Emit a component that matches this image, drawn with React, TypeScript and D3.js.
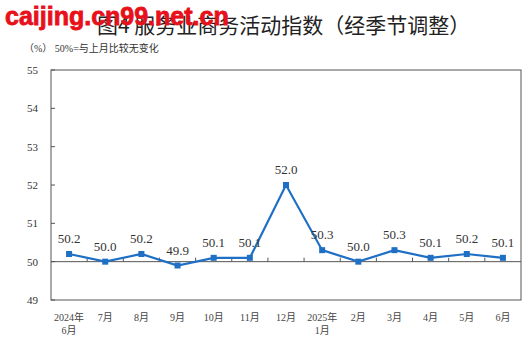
import React from 'react';
import * as d3 from 'd3';

const months = ['2024年\n6月', '7月', '8月', '9月', '10月', '11月', '12月', '2025年\n1月', '2月', '3月', '4月', '5月', '6月'];
const values = [50.2, 50.0, 50.2, 49.9, 50.1, 50.1, 52.0, 50.3, 50.0, 50.3, 50.1, 50.2, 50.1];
const yTicks = [49, 50, 51, 52, 53, 54, 55];

const W = 532;
const H = 353;
const left = 51;
const right = 521;
const top = 70;
const bottom = 300;

const serif = '"Liberation Serif", "Noto Sans CJK SC", serif';
const cjk = '"Noto Sans CJK SC", sans-serif';

const App: React.FC = () => {
  const x = d3.scaleBand<string>().domain(months).range([left, right]);
  const y = d3.scaleLinear().domain([49, 55]).range([bottom, top]);
  const line = d3.line<number>()
    .x((_, i) => (x(months[i]) as number) + x.bandwidth() / 2)
    .y(d => y(d));

  const boundaries = months.slice(1).map(m => x(m) as number);

  return (
    <svg width={W} height={H} style={{ position: 'absolute', left: 0, top: 0, background: '#fff' }}>
      {/* title */}
      <text x={97} y={33} fontFamily={cjk} fontSize={21} fill="#222">图4 服务业商务活动指数（经季节调整）</text>
      {/* watermark */}
      <text x={5} y={25} fontFamily='"Liberation Sans", Arial, sans-serif' fontWeight="bold" fontSize={25}
        fill="#e8101a" stroke="#e8101a" strokeWidth={0.8}>caijing.cn99.net.cn</text>
      <text x={24} y={52} fontFamily={serif} fontSize={10} fill="#333">（%） 50%=与上月比较无变化</text>

      {/* frame */}
      <rect x={left} y={top} width={right - left} height={bottom - top} fill="none" stroke="#555" strokeWidth={1} />
      {/* y axis ticks and labels */}
      {yTicks.map(t => (
        <g key={t}>
          <line x1={left} x2={left + 4} y1={y(t)} y2={y(t)} stroke="#555" />
          <text x={38} y={y(t) + 4} textAnchor="end" fontFamily={serif} fontSize={11} fill="#333">{t}</text>
        </g>
      ))}
      {/* baseline at 50 */}
      <line x1={left} x2={right} y1={y(50)} y2={y(50)} stroke="#555" />
      {boundaries.map((b, i) => (
        <line key={i} x1={b} x2={b} y1={y(50)} y2={y(50) - 4} stroke="#555" />
      ))}

      {/* category labels */}
      {months.map(m => {
        const cx = (x(m) as number) + x.bandwidth() / 2;
        const parts = m.split('\n');
        return (
          <text key={m} x={cx} y={321} textAnchor="middle" fontFamily={serif} fontSize={10} fill="#444">
            {parts.map((p, i) => (
              <tspan key={i} x={cx} dy={i === 0 ? 0 : 13}>{p}</tspan>
            ))}
          </text>
        );
      })}

      {/* series */}
      <path d={line(values) || ''} fill="none" stroke="#1f6fc5" strokeWidth={2.2} />
      {values.map((v, i) => {
        const cx = (x(months[i]) as number) + x.bandwidth() / 2;
        return (
          <g key={i}>
            <rect x={cx - 3} y={y(v) - 3} width={6} height={6} fill="#1f6fc5" />
            <text x={cx} y={y(v) - 11} textAnchor="middle" fontFamily={serif} fontSize={13} fill="#333">{v.toFixed(1)}</text>
          </g>
        );
      })}
    </svg>
  );
};

export default App;
